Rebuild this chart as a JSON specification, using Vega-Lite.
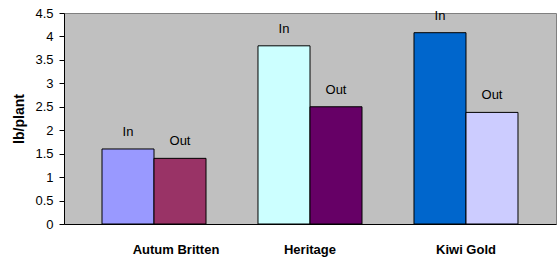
{
  "$schema": "https://vega.github.io/schema/vega-lite/v6.json",
  "width": 492,
  "height": 211,
  "autosize": {"type": "none"},
  "padding": {"left": 64, "top": 13, "right": 4, "bottom": 40},
  "background": "white",
  "config": {
    "view": {"fill": "#C0C0C0", "stroke": "#808080", "strokeWidth": 1},
    "font": "Liberation Sans"
  },
  "data": {
    "values": [
      {"variety": "Autum Britten", "loc": "In", "id": "Autum Britten In", "value": 1.6},
      {"variety": "Autum Britten", "loc": "Out", "id": "Autum Britten Out", "value": 1.4},
      {"variety": "Heritage", "loc": "In", "id": "Heritage In", "value": 3.8},
      {"variety": "Heritage", "loc": "Out", "id": "Heritage Out", "value": 2.5},
      {"variety": "Kiwi Gold", "loc": "In", "id": "Kiwi Gold In", "value": 4.08},
      {"variety": "Kiwi Gold", "loc": "Out", "id": "Kiwi Gold Out", "value": 2.38}
    ]
  },
  "encoding": {
    "x": {
      "field": "variety",
      "type": "nominal",
      "sort": ["Autum Britten", "Heritage", "Kiwi Gold"],
      "scale": {"paddingInner": 0.3333, "paddingOuter": 0.2436},
      "axis": {
        "title": null,
        "labelAngle": 0,
        "labelFontSize": 13,
        "labelFontWeight": "bold",
        "labelColor": "black",
        "labelPadding": 19,
        "labelOffset": {"condition": {"test": "datum.value === 'Autum Britten'", "value": 22}, "value": 0},
        "ticks": false,
        "domainColor": "black"
      }
    },
    "xOffset": {
      "field": "loc",
      "type": "nominal",
      "sort": ["In", "Out"],
      "scale": {"paddingInner": 0, "paddingOuter": 0}
    },
    "y": {
      "field": "value",
      "type": "quantitative",
      "scale": {"domain": [0, 4.5], "nice": false},
      "axis": {
        "title": "lb/plant",
        "titleFontSize": 14,
        "titleFontWeight": "bold",
        "titleColor": "black",
        "titleX": -45,
        "titleY": 105.5,
        "titleAngle": -90,
        "titleAlign": "center",
        "titleBaseline": "middle",
        "values": [0, 0.5, 1, 1.5, 2, 2.5, 3, 3.5, 4, 4.5],
        "format": "~g",
        "labelFontSize": 13,
        "labelColor": "black",
        "labelPadding": 6,
        "tickSize": 5,
        "tickColor": "black",
        "domainColor": "black",
        "grid": false
      }
    }
  },
  "layer": [
    {
      "mark": {"type": "bar", "stroke": "black", "strokeWidth": 1},
      "encoding": {
        "color": {
          "field": "id",
          "type": "nominal",
          "scale": {
            "domain": ["Autum Britten In", "Autum Britten Out", "Heritage In", "Heritage Out", "Kiwi Gold In", "Kiwi Gold Out"],
            "range": ["#9999FF", "#993366", "#CCFFFF", "#660066", "#0066CC", "#CCCCFF"]
          },
          "legend": null
        }
      }
    },
    {
      "mark": {"type": "text", "fontSize": 13, "baseline": "middle", "dy": -17, "color": "black"},
      "encoding": {"text": {"field": "loc"}}
    }
  ]
}
